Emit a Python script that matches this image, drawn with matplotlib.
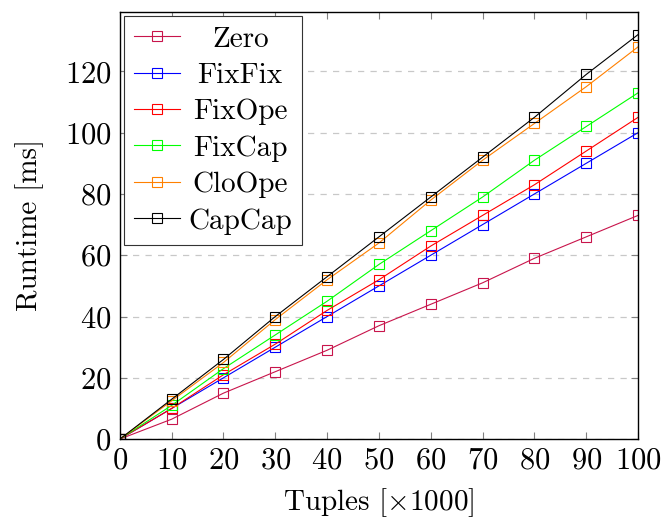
import numpy as np
import matplotlib
matplotlib.use('Agg')
import matplotlib.pyplot as plt

plt.rcParams['font.family'] = ['cmr10', 'DejaVu Serif']
plt.rcParams['mathtext.fontset'] = 'cm'
plt.rcParams['axes.formatter.use_mathtext'] = True

# Data
tuples = [0, 10, 20, 30, 40, 50, 60, 70, 80, 90, 100]
zero = [0, 6.5, 15, 22, 29, 37, 44, 51, 59, 66, 73]
fixfix = [0, 10, 20, 30, 40, 50, 60, 70, 80, 90, 100]
fixope = [0, 10, 21, 31, 42, 52, 63, 73, 83, 94, 105]
fixcap = [0, 11, 23, 34, 45, 57, 68, 79, 91, 102, 113]
cloope = [0, 12.5, 25, 39, 52, 64, 78, 91, 103, 115, 128]
capcap = [0, 13, 26, 40, 53, 66, 79, 92, 105, 119, 132]

series = [('Zero', zero, '#c8144b'),
          ('FixFix', fixfix, '#0000ff'),
          ('FixOpe', fixope, '#ff0000'),
          ('FixCap', fixcap, '#00ff00'),
          ('CloOpe', cloope, '#ff8000'),
          ('CapCap', capcap, '#000000')]

fig = plt.figure(figsize=(6.62, 5.24), dpi=100)
ax = fig.add_axes([0.181, 0.162, 0.783, 0.816])

for name, vals, col in series:
    ax.plot(tuples, vals, color=col, lw=0.8, marker='s', markersize=7.5,
            markerfacecolor='none', markeredgewidth=0.8, label=name)

ax.set_xlim(0, 100)
ax.set_ylim(0, 139.5)
ax.set_xticks(np.arange(0, 101, 10))
ax.set_yticks(np.arange(0, 121, 20))
ax.yaxis.grid(True, color='#c8c8c8', linestyle=(0, (5, 5)), lw=0.9)
ax.set_axisbelow(True)
ax.tick_params(direction='in', top=True, right=True, length=5,
               color='#808080', labelsize=22, pad=6)
for sp in ax.spines.values():
    sp.set_linewidth(1.0)

ax.set_xlabel(r'Tuples [$\times$1000]', fontsize=21, labelpad=8)
ax.set_ylabel('Runtime [ms]', fontsize=21, labelpad=15)

leg = ax.legend(loc='upper left', fontsize=21, frameon=True, fancybox=False,
                edgecolor='#333333', framealpha=1, handlelength=1.55,
                handletextpad=0.3, labelspacing=0.34, borderaxespad=0.15,
                borderpad=0.35)
leg.get_frame().set_linewidth(0.8)

# centre the legend labels in their column, like the pgfplots original
fig.canvas.draw()
r = fig.canvas.get_renderer()
widths = [t.get_window_extent(r).width for t in leg.get_texts()]
wmax = max(widths)
for t, w in zip(leg.get_texts(), widths):
    t.set_x((wmax - w) / 2.0)

fig.savefig('out.png', dpi=100)
